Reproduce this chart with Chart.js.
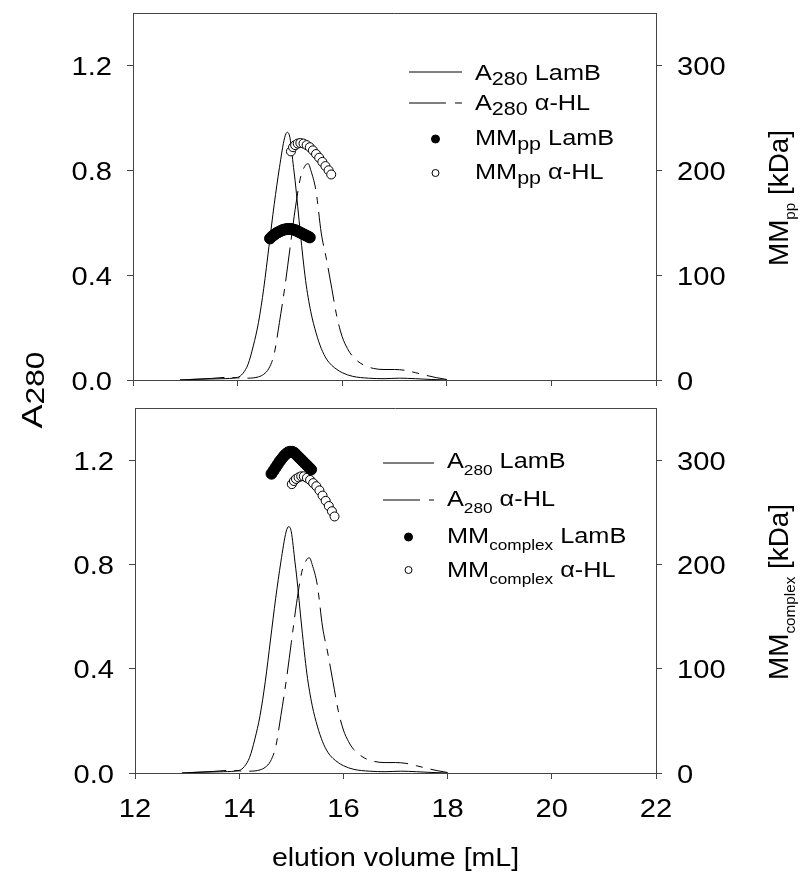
<!DOCTYPE html>
<html>
<head>
<meta charset="utf-8">
<script src="https://cdn.jsdelivr.net/npm/chart.js@4.4.0/dist/chart.umd.min.js"></script>
<style>
  html, body { margin: 0; padding: 0; background: #fff; }
  #wrap { position: relative; width: 801px; height: 874px; }
  #wrap canvas { position: absolute; left: 0; top: 0; }
</style>
</head>
<body>
<div id="wrap">
  <canvas id="topChart" width="801" height="874"></canvas>
  <canvas id="bottomChart" width="801" height="874"></canvas>
</div>
<script>
"use strict";

// A280 traces (same chromatograms shown in both panels)
var lambVol = [12.9, 13.3, 13.7, 14.0, 14.1, 14.2, 14.3, 14.4, 14.5, 14.6, 14.7, 14.8, 14.9, 14.95, 15.0,
    15.07, 15.1, 15.2, 15.3, 15.4, 15.5, 15.6, 15.7, 15.8, 15.9, 16.0, 16.2, 16.5, 16.8, 17.1, 17.4, 17.7, 18.0];
var lambAbs = [0.001, 0.003, 0.005, 0.01, 0.025, 0.06, 0.13, 0.22, 0.35, 0.51, 0.67, 0.81, 0.925, 0.945, 0.925,
    0.81, 0.76, 0.56, 0.38, 0.26, 0.18, 0.12, 0.08, 0.056, 0.04, 0.028, 0.014, 0.007, 0.005, 0.007, 0.005, 0.002, 0.0];

var hlVol = [13.1, 13.5, 13.8, 14.0, 14.2, 14.4, 14.5, 14.6, 14.7, 14.8, 14.9, 15.0, 15.1, 15.2, 15.3, 15.35,
    15.4, 15.5, 15.6, 15.7, 15.8, 15.9, 16.0, 16.1, 16.2, 16.4, 16.6, 16.8, 17.0, 17.2, 17.4, 17.6, 17.8, 18.0];
var hlAbs = [0.002, 0.006, 0.01, 0.008, 0.007, 0.012, 0.022, 0.045, 0.1, 0.22, 0.35, 0.5, 0.65, 0.77, 0.82, 0.825,
    0.8, 0.72, 0.56, 0.46, 0.35, 0.24, 0.165, 0.12, 0.09, 0.058, 0.044, 0.04, 0.04, 0.037, 0.028, 0.018, 0.009, 0.002];

// molar mass of the polypeptide (top panel)
var ppLambVol = [14.62, 14.66, 14.70, 14.74, 14.78, 14.82, 14.86, 14.90, 14.94, 14.98,
    15.02, 15.06, 15.10, 15.14, 15.18, 15.22, 15.26, 15.30, 15.34, 15.38];
var ppLambMM = [135, 137, 138.5, 140, 141, 142, 143, 143.5, 144, 144,
    144, 143.5, 143, 142, 141, 140, 139, 138, 137, 136];
var ppHlVol = [15.02, 15.06, 15.10, 15.15, 15.20, 15.26, 15.32, 15.38, 15.44, 15.50, 15.56, 15.62, 15.68, 15.74, 15.79];
var ppHlMM = [218, 222, 224, 225.5, 226, 225.5, 224, 222, 219, 215.5, 212, 208, 204, 200, 196];

// molar mass of the protein-detergent complex (bottom panel)
var cxLambVol = [14.62, 14.66, 14.70, 14.74, 14.78, 14.82, 14.86, 14.90, 14.94, 14.98,
    15.02, 15.06, 15.10, 15.14, 15.18, 15.22, 15.26, 15.30, 15.34, 15.38];
var cxLambMM = [287, 290, 293, 296, 299, 301.5, 304, 306, 307.5, 308,
    308, 307, 305, 303, 301, 299, 297, 295, 293, 291];
var cxHlVol = [15.01, 15.05, 15.09, 15.14, 15.19, 15.24, 15.30, 15.36, 15.42, 15.48, 15.54, 15.60, 15.66, 15.72, 15.78, 15.83];
var cxHlMM = [277, 280, 282, 283.5, 284.5, 284.5, 283, 281, 278, 275, 271, 266, 261, 256, 251, 246];

var xTicks = [12, 14, 16, 18, 20, 22];
var absTicks = [0, 0.4, 0.8, 1.2];
var mmTicks = [0, 100, 200, 300];

var FONT = '"Liberation Sans", Arial, sans-serif';
var AXIS = '#444';
var HL_DASH = [34, 8, 7, 8];

function pairs(xs, ys) {
    return xs.map(function (x, i) { return {x: x, y: ys[i]}; });
}

// parts: [[text, isSub], ...]; text is widened along its own direction
function drawText(ctx, parts, x, y, o) {
    var size = o.size;
    var subSize = size * (o.subScale || 0.7);
    var subDy = o.subDy || 0;
    var sx = o.sx || 1.12;
    ctx.save();
    ctx.translate(x, y);
    if (o.rotate) {
        ctx.rotate(o.rotate);
    }
    ctx.scale(sx, 1);
    ctx.fillStyle = '#000';
    ctx.textBaseline = 'alphabetic';
    ctx.textAlign = 'left';
    var w = 0;
    parts.forEach(function (p) {
        ctx.font = (p[1] ? subSize : size) + 'px ' + FONT;
        w += ctx.measureText(p[0]).width;
    });
    var cx = o.align === 'center' ? -w / 2 : (o.align === 'right' ? -w : 0);
    parts.forEach(function (p) {
        ctx.font = (p[1] ? subSize : size) + 'px ' + FONT;
        ctx.fillText(p[0], cx, p[1] ? subDy : 0);
        cx += ctx.measureText(p[0]).width;
    });
    ctx.restore();
}

function drawSymbol(ctx, kind, x1, x2, y) {
    ctx.save();
    ctx.strokeStyle = '#000';
    ctx.lineWidth = 1;
    if (kind === 'solid' || kind === 'dash') {
        ctx.setLineDash(kind === 'dash' ? [37, 9, 7, 9] : []);
        ctx.beginPath();
        ctx.moveTo(x1, y);
        ctx.lineTo(x2, y);
        ctx.stroke();
    } else {
        ctx.beginPath();
        ctx.arc((x1 + x2) / 2, y, kind === 'filled' ? 4 : 3.5, 0, Math.PI * 2);
        ctx.fillStyle = kind === 'filled' ? '#000' : '#fff';
        ctx.fill();
        ctx.stroke();
    }
    ctx.restore();
}

function panelPlugin(p) {
    return {
        id: 'panelDecor',
        afterDraw: function (chart) {
            var ctx = chart.ctx;
            var a = chart.chartArea;
            // top frame line
            ctx.save();
            ctx.strokeStyle = AXIS;
            ctx.lineWidth = 1;
            ctx.beginPath();
            ctx.moveTo(a.left, Math.round(a.top) + 0.5);
            ctx.lineTo(a.right, Math.round(a.top) + 0.5);
            ctx.stroke();
            ctx.restore();

            var y = chart.scales.y, y2 = chart.scales.y2, x = chart.scales.x;
            y.ticks.forEach(function (t) {
                drawText(ctx, [[t.value.toFixed(1)]], a.left - 21, y.getPixelForValue(t.value) + 9.5,
                    {size: 26, align: 'right'});
            });
            y2.ticks.forEach(function (t) {
                drawText(ctx, [[String(t.value)]], a.right + 21, y2.getPixelForValue(t.value) + 9.5,
                    {size: 26, align: 'left'});
            });
            if (p.showX) {
                x.ticks.forEach(function (t) {
                    drawText(ctx, [[String(t.value)]], x.getPixelForValue(t.value), 817,
                        {size: 26, align: 'center'});
                });
                drawText(ctx, [['elution volume [mL]']], (a.left + a.right) / 2, 866,
                    {size: 25, align: 'center', sx: 1.14});
            }
            if (p.leftTitle) {
                drawText(ctx, [['A'], ['280', true]], 42, 390,
                    {size: 30, align: 'center', rotate: -Math.PI / 2, subScale: 0.88, subDy: 2, sx: 1.2});
            }
            drawText(ctx, p.rightTitle, p.rightTitleX, p.rightTitleY,
                {size: 27, align: 'center', rotate: -Math.PI / 2, subScale: 0.55, subDy: 7, sx: 1.03});

            var lg = p.legend;
            lg.rows.forEach(function (r) {
                drawSymbol(ctx, r.kind, lg.x1, lg.x2, r.sy);
                drawText(ctx, r.text, lg.tx, r.by,
                    {size: 22, align: 'left', subScale: lg.subScale, subDy: lg.subDy, sx: 1.15});
            });
        }
    };
}

function buildChart(id, p) {
    var area = p.area;
    return new Chart(document.getElementById(id), {
        type: 'scatter',
        data: {
            datasets: [{
                label: 'MM LamB',
                data: pairs(p.lambVol, p.lambMM),
                yAxisID: 'y2',
                pointRadius: 5.5,
                pointBackgroundColor: '#000',
                pointBorderColor: '#000',
                pointBorderWidth: 1,
                showLine: false,
                order: 0
            }, {
                label: 'MM α-HL',
                data: pairs(p.hlVol, p.hlMM),
                yAxisID: 'y2',
                pointRadius: 4.5,
                pointBackgroundColor: '#fff',
                pointBorderColor: '#000',
                pointBorderWidth: 1,
                showLine: false,
                order: 0
            }, {
                label: 'A280 LamB',
                data: pairs(lambVol, lambAbs),
                yAxisID: 'y',
                showLine: true,
                borderColor: '#000',
                borderWidth: 1,
                pointRadius: 0,
                cubicInterpolationMode: 'monotone',
                order: 1
            }, {
                label: 'A280 α-HL',
                data: pairs(hlVol, hlAbs),
                yAxisID: 'y',
                showLine: true,
                borderColor: '#000',
                borderWidth: 1,
                borderDash: HL_DASH,
                pointRadius: 0,
                cubicInterpolationMode: 'monotone',
                order: 1
            }]
        },
        options: {
            responsive: false,
            animation: false,
            events: [],
            layout: {
                padding: {left: 0, right: 0, top: area.top, bottom: 874 - area.bottom - 6}
            },
            plugins: {legend: {display: false}, tooltip: {enabled: false}},
            scales: {
                x: {
                    type: 'linear',
                    min: 12,
                    max: 22,
                    afterBuildTicks: function (s) { s.ticks = xTicks.map(function (v) { return {value: v}; }); },
                    afterFit: function (s) { s.height = 6; },
                    ticks: {display: false},
                    grid: {drawOnChartArea: false, drawTicks: true, tickLength: 6, tickColor: AXIS},
                    border: {display: true, color: AXIS, width: 1}
                },
                y: {
                    type: 'linear',
                    position: 'left',
                    min: 0,
                    max: 1.4,
                    afterBuildTicks: function (s) { s.ticks = absTicks.map(function (v) { return {value: v}; }); },
                    afterFit: function (s) { s.width = area.left; },
                    ticks: {display: false},
                    grid: {drawOnChartArea: false, drawTicks: true, tickLength: 6, tickColor: AXIS},
                    border: {display: true, color: AXIS, width: 1}
                },
                y2: {
                    type: 'linear',
                    position: 'right',
                    min: 0,
                    max: 350,
                    afterBuildTicks: function (s) { s.ticks = mmTicks.map(function (v) { return {value: v}; }); },
                    afterFit: function (s) { s.width = 801 - area.right; },
                    ticks: {display: false},
                    grid: {drawOnChartArea: false, drawTicks: true, tickLength: 6, tickColor: AXIS},
                    border: {display: true, color: AXIS, width: 1}
                }
            }
        },
        plugins: [panelPlugin(p)]
    });
}

buildChart('topChart', {
    area: {left: 133, right: 656, top: 13, bottom: 380},
    lambVol: ppLambVol, lambMM: ppLambMM,
    hlVol: ppHlVol, hlMM: ppHlMM,
    showX: false,
    leftTitle: true,
    rightTitle: [['MM'], ['pp', true], [' [kDa]']],
    rightTitleX: 788, rightTitleY: 198,
    legend: {
        x1: 409, x2: 462, tx: 475, subScale: 0.85, subDy: 5,
        rows: [
            {kind: 'solid', sy: 72, by: 80, text: [['A'], ['280', true], [' LamB']]},
            {kind: 'dash', sy: 103, by: 110, text: [['A'], ['280', true], [' α-HL']]},
            {kind: 'filled', sy: 139, by: 145, text: [['MM'], ['pp', true], [' LamB']]},
            {kind: 'open', sy: 173, by: 179, text: [['MM'], ['pp', true], [' α-HL']]}
        ]
    }
});

buildChart('bottomChart', {
    area: {left: 135, right: 656, top: 408, bottom: 773},
    lambVol: cxLambVol, lambMM: cxLambMM,
    hlVol: cxHlVol, hlMM: cxHlMM,
    showX: true,
    leftTitle: false,
    rightTitle: [['MM'], ['complex', true], [' [kDa]']],
    rightTitleX: 788, rightTitleY: 592,
    legend: {
        x1: 383, x2: 434, tx: 447, subScale: 0.68, subDy: 7,
        rows: [
            {kind: 'solid', sy: 463, by: 468, text: [['A'], ['280', true], [' LamB']]},
            {kind: 'dash', sy: 500, by: 506, text: [['A'], ['280', true], [' α-HL']]},
            {kind: 'filled', sy: 537, by: 543, text: [['MM'], ['complex', true], [' LamB']]},
            {kind: 'open', sy: 570, by: 577, text: [['MM'], ['complex', true], [' α-HL']]}
        ]
    }
});
</script>
</body>
</html>
